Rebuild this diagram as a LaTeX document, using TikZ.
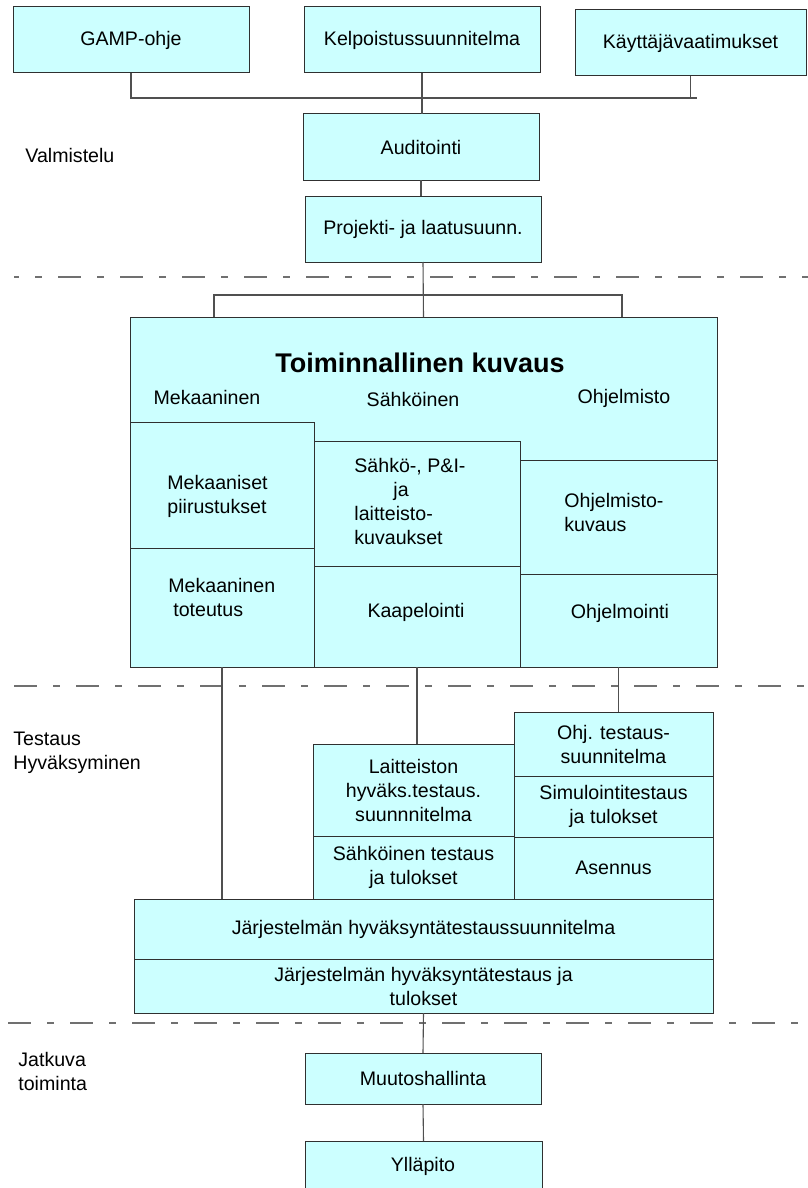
\documentclass[tikz,border=0pt]{standalone}
\usepackage{fontspec}
\setmainfont{Liberation Sans}
\definecolor{boxfill}{HTML}{CCFFFF}
\definecolor{boxline}{HTML}{303030}
\definecolor{linkgray}{HTML}{505050}
\definecolor{dashgray}{HTML}{707070}
% box given by its corners in pixel units: name, x1, y1, x2, y2, text
\newcommand\blk[6]{%
  \node[blk, minimum width={(#4-#2)*0.5pt}, minimum height={(#5-#3)*0.5pt}]
    (#1) at (#2,#3) {#6};}
\begin{document}
\begin{tikzpicture}[x=0.5pt,y=-0.5pt,
  font=\fontsize{9.8}{12}\selectfont,
  blk/.style={draw=boxline, fill=boxfill, line width=0.5pt, inner sep=0pt,
    outer sep=0pt, align=center, anchor=north west},
  lbl/.style={inner sep=0pt, align=left, anchor=west},
  txt/.style={inner sep=0pt, align=center},
  link/.style={draw=linkgray, line width=0.55pt},
  phase/.style={draw=dashgray, line width=0.75pt,
    dash pattern=on 11.5pt off 8pt on 3.5pt off 8pt}]
\clip (0,0) rectangle (808,1188);

% phase separators
\coordinate (d1a) at (14,277);  \coordinate (d1b) at (808,277);
\coordinate (d2a) at (14,686);  \coordinate (d2b) at (808,686);
\coordinate (d3a) at (8,1023);  \coordinate (d3b) at (808,1023);
\draw[phase, dash phase=9pt] (d1a) -- (d1b);
\draw[phase] (d2a) -- (d2b);
\draw[phase] (d3a) -- (d3b);

% phase names
\node[lbl] (valm) at (25,155) {Valmistelu};
\node[lbl] (test) at (13,753) {Testaus\\Hyväksyminen};
\node[lbl] (jatk) at (18,1071) {Jatkuva\\toiminta};

% preparation
\blk{gamp}{13}{7}{249}{73}{GAMP-ohje}
\blk{kelp}{304}{7}{540}{73}{Kelpoistussuunnitelma}
\blk{kaytto}{575}{10}{806}{76}{Käyttäjävaatimukset}
\blk{audit}{303}{114}{539}{180}{Auditointi}
\blk{proj}{305}{196}{541}{262}{Projekti- ja laatusuunn.}

% functional description
\blk{toim}{130}{317}{717}{667}{}
\blk{mekpiir}{130}{422}{314}{548}{}
\blk{mektot}{130}{548}{314}{667}{}
\blk{sahkokuv}{314}{441}{520}{566}{}
\blk{kaap}{314}{566}{520}{667}{}
\blk{ohjkuv}{520}{460}{717}{574}{}
\blk{ohjelm}{520}{574}{717}{667}{}
\node[txt, font=\fontsize{13.5}{15}\selectfont\bfseries] (toimT) at (420,363) {Toiminnallinen kuvaus};
\node[txt] (mekT) at (207,397) {Mekaaninen};
\node[txt] (sahT) at (413,399) {Sähköinen};
\node[txt] (ohjT) at (624,398) {Ohjelmisto};
\node[lbl] (mekpiirT) at (167,496) {Mekaaniset\\piirustukset};
\node[lbl] (mektotT) at (168,597) {Mekaaninen\\\hspace*{2.5pt}toteutus};
\node[lbl] (sahkokuvT) at (354,501) {Sähkö-, P\&I-\\\hspace*{19.5pt}ja\\laitteisto-\\kuvaukset};
\node[txt] (kaapT) at (416,612) {Kaapelointi};
\node[lbl] (ohjkuvT) at (564,512) {Ohjelmisto-\\kuvaus};
\node[txt] (ohjelmT) at (620,613) {Ohjelmointi};

% testing and acceptance
\blk{ohjtest}{514}{712}{713}{776}{Ohj. testaus-\\suunnitelma}
\blk{simul}{514}{776}{713}{837}{Simulointitestaus\\ja tulokset}
\blk{asennus}{514}{837}{713}{899}{Asennus}
\blk{laitt}{313}{744}{514}{836}{Laitteiston\\hyväks.testaus.\\suunnnitelma}
\blk{stest}{313}{836}{514}{899}{Sähköinen testaus\\ja tulokset}
\blk{jsuun}{134}{899}{713}{959}{Järjestelmän hyväksyntätestaussuunnitelma}
\blk{jtest}{134}{959}{713}{1013}{Järjestelmän hyväksyntätestaus ja\\tulokset}

% continuous operation
\blk{muutos}{305}{1053}{541}{1104}{Muutoshallinta}
\blk{yllapito}{305}{1141}{542}{1200}{}
\node[txt] (yllT) at (423,1166) {Ylläpito};

% connectors
\coordinate (busA) at (697,98);
\draw[link] (gamp.south) |- (busA);
\draw[link] (kaytto.south) -- (kaytto.south |- busA);
\draw[link] (kelp.south) -- (kelp.south |- audit.north);
\draw[link] (audit.south) -- (audit.south |- proj.north);
\coordinate (busBl) at (214,295);
\coordinate (busBr) at (622,295);
\draw[link] (proj.south) -- (toim.north);
\draw[link] (busBl |- toim.north) |- (busBr) -- (busBr |- toim.north);
\draw[link] (mektot.south) -- (mektot.south |- jsuun.north);
\draw[link] (kaap.south) -- (kaap.south |- laitt.north);
\draw[link] (ohjelm.south) -- (ohjelm.south |- ohjtest.north);
\draw[link] (jtest.south) -- (muutos.north);
\draw[link] (muutos.south) -- (yllapito.north);
\end{tikzpicture}
\end{document}
